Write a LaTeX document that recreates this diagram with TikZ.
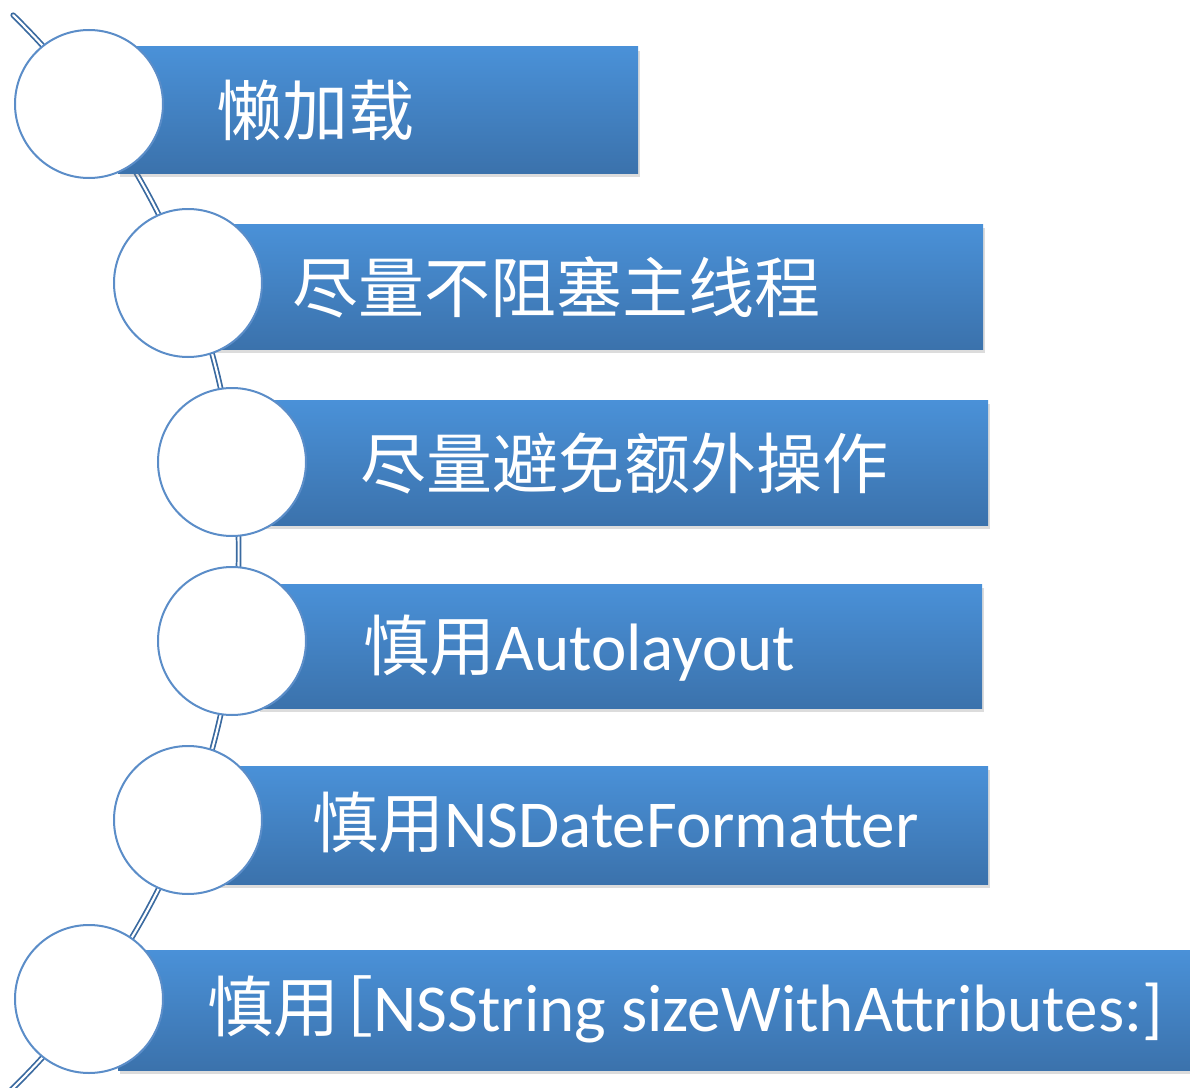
\documentclass[tikz,border=0pt]{standalone}
\usepackage{fontspec}
\setmainfont{Carlito}
\newfontfamily\cjk{Noto Sans CJK SC}
\newcommand\latsize{\fontsize{50.3pt}{55pt}\selectfont}
\usetikzlibrary{shadows}
\definecolor{bartop}{HTML}{4A91D8}
\definecolor{barbot}{HTML}{3B72AC}
\definecolor{ringc}{HTML}{5B8DC8}
\definecolor{spinec}{HTML}{3A6AA0}
\begin{document}
\begin{tikzpicture}[x=0.75pt,y=-0.75pt,
  bar/.style={rectangle, inner sep=0pt, top color=bartop, bottom color=barbot, draw=none,
    drop shadow={shadow xshift=1.5pt, shadow yshift=-3pt, opacity=0.28}},
  ring/.style={circle, fill=white, draw=ringc, line width=1.5pt, minimum size=111pt, inner sep=0pt},
  lbl/.style={anchor=base west, inner sep=0pt, text=white, font=\fontsize{49.5pt}{55pt}\selectfont},
  spine/.style={draw=spinec, line width=1.3pt, double=white, double distance=1.6pt, line cap=round}]
\useasboundingbox (0,0) rectangle (1190,1088);
\clip (0,0) rectangle (1190,1088);
% spine
\draw[spine] (-512,551.5) ++(45.6:563pt) arc[start angle=45.6, end angle=-47, radius=563pt];
% bars
\node[bar, minimum width=390pt,    minimum height=94.5pt]  (b1) at (378,110) {};
\node[bar, minimum width=577.5pt,  minimum height=93.75pt] (b2) at (598,286.5) {};
\node[bar, minimum width=547.5pt,  minimum height=93.75pt] (b3) at (623,462.5) {};
\node[bar, minimum width=543pt,    minimum height=93pt]    (b4) at (620,646) {};
\node[bar, minimum width=581.25pt, minimum height=88.5pt]  (b5) at (600.5,825) {};
\node[bar, minimum width=804pt,    minimum height=90pt]    (b6) at (654,1010) {};
% circles
\node[ring] (c1) at (89,104) {};
\node[ring] (c2) at (188,283) {};
\node[ring] (c3) at (232,462) {};
\node[ring] (c4) at (232,641) {};
\node[ring] (c5) at (188,820) {};
\node[ring] (c6) at (89,999) {};
% labels
\node[lbl] (t1) at (216,136) {\cjk 懒加载};
\node[lbl] (t2) at (292,312) {\cjk 尽量不阻塞主线程};
\node[lbl] (t3) at (360,488) {\cjk 尽量避免额外操作};
\node[lbl] (t4) at (363,670) {{\cjk 慎用}{\latsize Autolayout}};
\node[lbl] (t5) at (312,847) {{\cjk 慎用}{\latsize NSDateFormatter}};
\node[lbl] (t6) at (207,1031) {{\cjk 慎用\hspace{-24pt}［}{\latsize NSString sizeWithAttributes:]}};
\end{tikzpicture}
\end{document}
